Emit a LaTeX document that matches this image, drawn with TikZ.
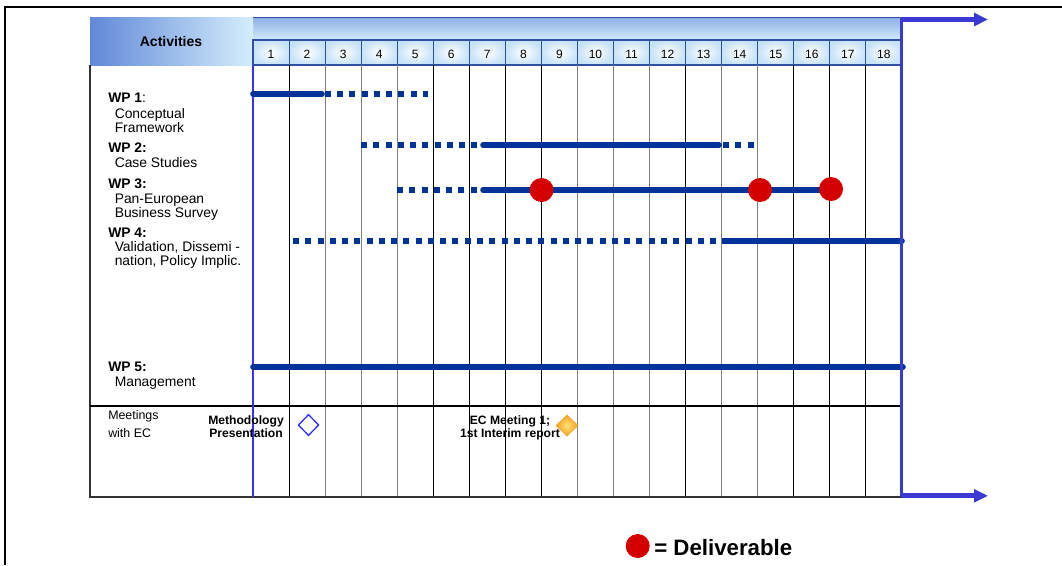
\documentclass[tikz,border=0pt]{standalone}
\usepackage{fontspec}
\setmainfont{Liberation Sans}
\usetikzlibrary{arrows.meta,shapes.geometric}

\definecolor{barblue}{HTML}{003399}
\definecolor{lineblue}{HTML}{3333FF}
\definecolor{arrowblue}{HTML}{3A3AD2}
\definecolor{cellborder}{HTML}{3050A8}
\definecolor{cellblue}{HTML}{C6E2F8}
\definecolor{bandtop}{HTML}{8FAEE6}
\definecolor{bandbottom}{HTML}{D2ECFB}
\definecolor{actleft}{HTML}{6288D8}
\definecolor{actright}{HTML}{D4EEFC}
\definecolor{delred}{HTML}{D40000}
\definecolor{gridgray}{HTML}{808080}
\definecolor{orangeout}{HTML}{F5A020}
\definecolor{orangein}{HTML}{FFE27A}

\tikzset{
  solidbar/.style={line width=4.2pt, color=barblue, line cap=round},
  dotbar/.style={line width=4.2pt, color=barblue, line cap=butt, dash pattern=on 4.5pt off 4.7pt},
  deliv/.style={circle, fill=delred, minimum size=18pt, inner sep=0pt},
  wphead/.style={anchor=base west, inner sep=0pt, font=\fontsize{10.4}{12}\selectfont\bfseries},
  wptext/.style={anchor=base west, inner sep=0pt, font=\fontsize{10.4}{12}\selectfont},
  numtext/.style={anchor=base, inner sep=0pt, font=\fontsize{9}{11}\selectfont},
  meettext/.style={anchor=base west, inner sep=0pt, font=\fontsize{9.3}{11}\selectfont},
  meetbold/.style={anchor=base, inner sep=0pt, font=\fontsize{9.1}{10}\selectfont\bfseries},
  bigarrow/.style={line width=3.5pt, color=arrowblue, -{Triangle[length=10.5pt,width=9.5pt]}},
  cellbox/.style={draw=cellborder, line width=0.8pt, inner color=white, outer color=cellblue},
}

\begin{document}
\begin{tikzpicture}[x=0.75pt,y=-0.75pt]
\useasboundingbox (0,0) rectangle (1062,565);

% outer frame (top and left edges)
\draw[line width=1.5pt, black] (1062,7) -- (5,7) -- (5,565);

% header band above the month numbers
\shade[top color=bandtop, bottom color=bandbottom] (253,17.5) rectangle (901.5,40);
\draw[line width=1pt, cellborder] (247,17.5) -- (901.5,17.5);

% activities header box
\shade[left color=actleft, right color=actright] (90,17.7) rectangle (253,65);
\node[inner sep=0pt, anchor=base, font=\fontsize{10.5}{12}\selectfont\bfseries] (act) at (171,46.7) {Activities};

% month cells
\foreach \i in {1,...,18}{
  \pgfmathsetmacro{\xa}{253+36.05*(\i-1)}
  \pgfmathsetmacro{\xb}{253+36.05*\i}
  \draw[cellbox] (\xa,40) rectangle (\xb,65);
  \node[numtext] (m\i) at ({(\xa+\xb)/2},58.3) {\i};
}

% grid of month columns
\foreach \i/\c in {1/black,2/gridgray,3/gridgray,4/gridgray,5/black,6/black,7/black,8/black,9/gridgray,10/gridgray,11/gridgray,12/black,13/gridgray,14/gridgray,15/black,16/black,17/black}{
  \draw[line width=0.8pt, \c] ({253+36.05*\i},65) -- ({253+36.05*\i},497);
}

% table outline and meetings separator
\draw[line width=1.1pt, black!80] (90,65) -- (90,497) -- (901.5,497);
\draw[line width=0.8pt, black] (90,406) -- (901.5,406);

% start-of-project line
\draw[line width=1.9pt, lineblue] (253,65) -- (253,497);

% work package labels
\node[wphead] (wp1) at (108,102.7) {WP 1\textmd{:}};
\node[wptext] (wp1a) at (114.5,118.3) {Conceptual};
\node[wptext] (wp1b) at (114.5,132) {Framework};
\node[wphead] (wp2) at (108,152.3) {WP 2:};
\node[wptext] (wp2a) at (114.5,167.3) {Case Studies};
\node[wphead] (wp3) at (108,188.3) {WP 3:};
\node[wptext] (wp3a) at (114.5,203) {Pan-European};
\node[wptext] (wp3b) at (114.5,217) {Business Survey};
\node[wphead] (wp4) at (108,237.3) {WP 4:};
\node[wptext] (wp4a) at (114.5,251.7) {Validation, Dissemi -};
\node[wptext] (wp4b) at (114.5,265.5) {nation, Policy Implic.};
\node[wphead] (wp5) at (108,371) {WP 5:};
\node[wptext] (wp5a) at (114.5,386) {Management};

% WP 1 bars
\draw[solidbar] (253,94) -- (322,94);
\draw[dotbar] (288,94) -- (428,94);
% WP 2 bars
\draw[dotbar] (361,145) -- (478,145);
\draw[solidbar] (483,145) -- (719,145);
\draw[dotbar] (723,145) -- (757,145);
% WP 3 bars
\draw[dotbar] (397,190) -- (478,190);
\draw[solidbar] (483,190) -- (830,190);
% WP 4 bars
\draw[dotbar] (293,241) -- (730,241);
\draw[solidbar] (727,241) -- (902,241);
% WP 5 bar
\draw[solidbar] (253,367) -- (903,367);

% deliverables
\node[deliv] (d1) at (541.5,190) {};
\node[deliv] (d2) at (760,190) {};
\node[deliv] (d3) at (831,189) {};

% meetings with the EC
\node[meettext] (mt1) at (108,419.3) {Meetings};
\node[meettext] (mt2) at (108,437.3) {with EC};
\node[meetbold] (mp1) at (246,424.3) {Methodology};
\node[meetbold] (mp2) at (246,437.7) {Presentation};
\node[diamond, draw=lineblue, line width=1pt, minimum width=15.5pt, minimum height=16pt, inner sep=0pt] (dm1) at (308.5,425) {};
\node[meetbold] (ec1) at (510,424.3) {EC Meeting 1;};
\node[meetbold] (ec2) at (510,437.7) {1st Interim report};
\node[diamond, draw=orangeout!90!white, line width=0.6pt, inner color=orangein, outer color=orangeout, minimum width=16.5pt, minimum height=16pt, inner sep=0pt] (dm2) at (567,425.5) {};

% project end line and time arrows
\draw[line width=2.6pt, arrowblue] (901.5,17.5) -- (901.5,497);
\coordinate (endtop) at (901.5,19.5);
\coordinate (endbot) at (901.5,495.8);
\coordinate (tiptop) at (988,19.5);
\coordinate (tipbot) at (988,495.8);
\draw[bigarrow] (endtop) -- (tiptop);
\draw[bigarrow] (endbot) -- (tipbot);

% legend
\node[deliv] (leg) at (637.7,546) {};
\node[anchor=base west, inner sep=0pt, font=\fontsize{16.7}{19}\selectfont\bfseries] (legtext) at (654,555) {= Deliverable};
\end{tikzpicture}
\end{document}
